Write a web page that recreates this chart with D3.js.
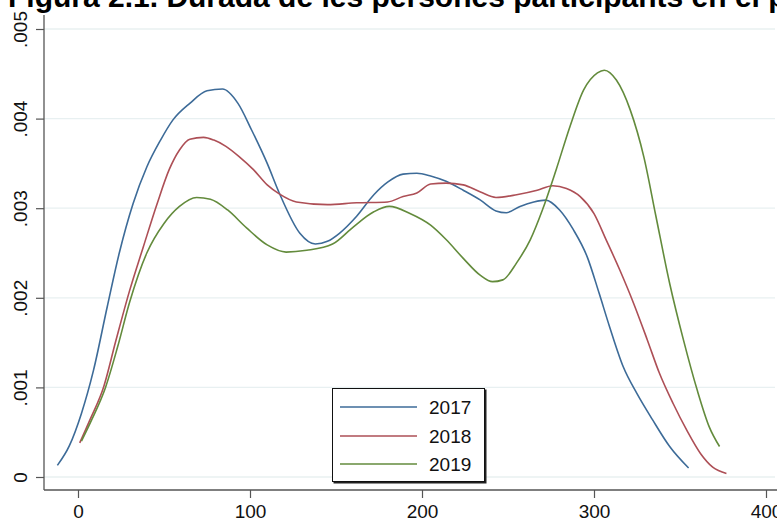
<!DOCTYPE html>
<html>
<head>
<meta charset="utf-8">
<script src="https://cdn.jsdelivr.net/npm/d3@7"></script>
<style>
  html, body { margin: 0; padding: 0; background: #ffffff; }
  svg { display: block; font-family: "Liberation Sans", Arial, sans-serif; }
</style>
</head>
<body>
<svg id="chart" width="777" height="523"></svg>
<script>
const titleText = "Figura 2.1. Durada de les persones participants en el programa";
const seriesNames = ["2017", "2018", "2019"];
const xTicks = [0, 100, 200, 300, 400];
const yTicks = [0, 0.001, 0.002, 0.003, 0.004, 0.005];

// days (x) and kernel density (in units of 0.001)
const x2017 = [-12,-5,2,9,17,24,32,40,48,55,65,75,84,93,101,110,117,129,138,145,152,162,172,180,189,197,205,214,224,234,243,249,257,265,272,280,288,296,303,309,317,325,334,344,355];
const y2017 = [0.13,0.35,0.71,1.19,1.90,2.50,3.05,3.46,3.76,3.98,4.17,4.31,4.33,4.17,3.87,3.50,3.17,2.72,2.60,2.63,2.72,2.91,3.15,3.29,3.38,3.39,3.36,3.30,3.20,3.09,2.97,2.95,3.02,3.07,3.09,2.98,2.76,2.46,2.05,1.68,1.23,0.93,0.64,0.34,0.10];

const x2018 = [1,7,15,22,30,38,46,53,59,65,73,79,86,94,102,110,117,127,145,162,180,189,197,205,214,224,234,243,255,267,276,284,292,300,307,315,323,331,338,346,354,362,369,377];
const y2018 = [0.38,0.64,1.01,1.52,2.08,2.57,3.05,3.43,3.65,3.77,3.79,3.76,3.69,3.57,3.43,3.26,3.16,3.07,3.04,3.06,3.07,3.13,3.17,3.27,3.28,3.26,3.18,3.12,3.15,3.20,3.25,3.22,3.13,2.94,2.65,2.31,1.94,1.53,1.16,0.82,0.52,0.26,0.11,0.04];

const x2019 = [2,8,16,23,30,40,50,59,69,77,87,98,110,121,133,148,160,172,181,193,205,214,224,234,241,247,255,263,270,278,286,294,302,306,313,321,329,336,344,352,360,367,373];
const y2019 = [0.40,0.64,1.00,1.45,1.95,2.50,2.83,3.02,3.12,3.10,2.98,2.78,2.59,2.51,2.53,2.60,2.79,2.96,3.02,2.94,2.81,2.65,2.44,2.25,2.18,2.20,2.39,2.65,2.98,3.43,3.91,4.32,4.51,4.54,4.43,4.10,3.57,2.91,2.16,1.53,0.97,0.56,0.34];

const colors = ["#3d6b98", "#ad4f56", "#638b3c"];

const series = [
  { name: seriesNames[0], xs: x2017, ys: y2017, color: colors[0] },
  { name: seriesNames[1], xs: x2018, ys: y2018, color: colors[1] },
  { name: seriesNames[2], xs: x2019, ys: y2019, color: colors[2] }
];

const svg = d3.select("#chart");
const x = d3.scaleLinear().domain([0, 400]).range([78, 766]);
const y = d3.scaleLinear().domain([0, 0.005]).range([477, 29]);

const axisLeftX = 44, axisBottomY = 490;

// gridlines
svg.append("g").selectAll("line").data(yTicks).join("line")
  .attr("x1", axisLeftX).attr("x2", 775)
  .attr("y1", d => y(d)).attr("y2", d => y(d))
  .attr("stroke", "#e8f0f1").attr("stroke-width", 1.3);

// y axis
const gy = svg.append("g").attr("transform", `translate(${axisLeftX},0)`)
  .call(d3.axisLeft(y).tickValues(yTicks).tickSize(8)
    .tickFormat(d => d === 0 ? "0" : d3.format(".3f")(d).replace(/^0/, "")));
gy.select(".domain").remove();
gy.selectAll(".tick line").attr("stroke", "#555").attr("stroke-width", 1.2);
gy.selectAll(".tick text")
  .attr("x", null).attr("dy", null)
  .attr("transform", "translate(-17,0) rotate(-90)")
  .attr("text-anchor", "middle")
  .attr("font-size", 19).attr("fill", "#111")
  .attr("font-family", "Liberation Sans, Arial, sans-serif");

// x axis
const gx = svg.append("g").attr("transform", `translate(0,${axisBottomY})`)
  .call(d3.axisBottom(x).tickValues(xTicks).tickSize(8).tickFormat(d3.format("d")));
gx.select(".domain").remove();
gx.selectAll(".tick line").attr("stroke", "#555").attr("stroke-width", 1.2);
gx.selectAll(".tick text")
  .attr("y", 28).attr("dy", null)
  .attr("font-size", 19).attr("fill", "#111")
  .attr("font-family", "Liberation Sans, Arial, sans-serif");

// axis lines
svg.append("line").attr("x1", axisLeftX).attr("x2", axisLeftX).attr("y1", 15).attr("y2", axisBottomY)
  .attr("stroke", "#555").attr("stroke-width", 1.3);
svg.append("line").attr("x1", axisLeftX).attr("x2", 777).attr("y1", axisBottomY).attr("y2", axisBottomY)
  .attr("stroke", "#555").attr("stroke-width", 1.3);

// lines
const line = d3.line()
  .x(d => x(d[0]))
  .y(d => y(d[1] / 1000))
  .curve(d3.curveMonotoneX);

svg.append("g").selectAll("path").data(series).join("path")
  .attr("d", s => line(s.xs.map((v, i) => [v, s.ys[i]])))
  .attr("fill", "none")
  .attr("stroke", s => s.color)
  .attr("stroke-width", 1.6)
  .attr("stroke-linejoin", "round");

// legend
const lg = svg.append("g");
lg.append("rect").attr("x", 333.5).attr("y", 389.5).attr("width", 153).attr("height", 94)
  .attr("fill", "#222");
lg.append("rect").attr("x", 332.5).attr("y", 388.5).attr("width", 152).attr("height", 93)
  .attr("fill", "#fff").attr("stroke", "#111").attr("stroke-width", 1);
const rowY = [407, 436, 464];
series.forEach((s, i) => {
  lg.append("line").attr("x1", 340).attr("x2", 417).attr("y1", rowY[i]).attr("y2", rowY[i])
    .attr("stroke", s.color).attr("stroke-width", 1.6);
  lg.append("text").attr("x", 429).attr("y", rowY[i] + 7)
    .attr("font-size", 19).attr("fill", "#111").text(s.name);
});

// title (clipped at top of the image)
svg.append("text").attr("x", 8).attr("y", 7)
  .attr("font-size", 30).attr("font-weight", "bold").attr("fill", "#000")
  .text(titleText);
</script>
</body>
</html>
